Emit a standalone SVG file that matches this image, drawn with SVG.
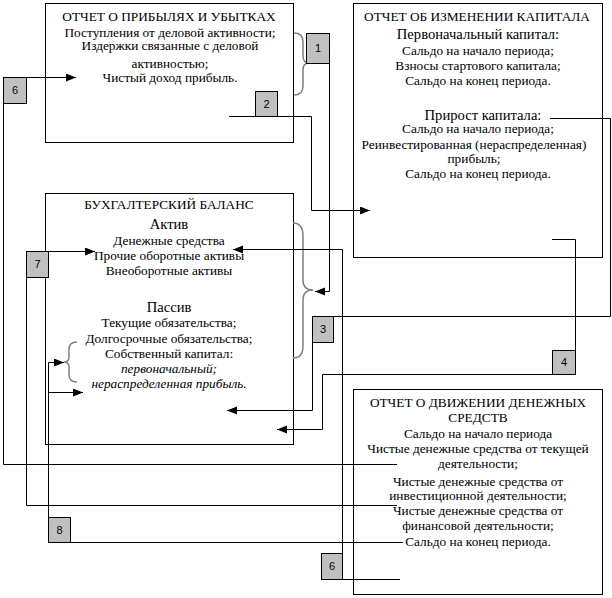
<svg xmlns="http://www.w3.org/2000/svg" width="612" height="598" viewBox="0 0 612 598">
<defs>
<marker id="ah" markerUnits="userSpaceOnUse" markerWidth="12" markerHeight="10" refX="10" refY="4" orient="auto">
<path d="M0,0 L10,4 L0,8 Z" fill="#000"/>
</marker>
<style>
.box{fill:#fff;stroke:#000;stroke-width:1}
.t{font-family:'Liberation Serif',serif;font-size:13.3px;fill:#000;text-anchor:middle}
.big{font-size:14.6px}
.it{font-style:italic}
.num{fill:#c0c0c0;stroke:#000;stroke-width:1}
.nt{font-family:'Liberation Sans',sans-serif;font-size:11px;fill:#000;text-anchor:middle}
.c{fill:none;stroke:#000;stroke-width:1}
.br{fill:none;stroke:#808080;stroke-width:1.5}
</style>
</defs>
<rect width="612" height="598" fill="#fff"/>

<g id="income">
<rect class="box" x="45.5" y="3.5" width="248" height="139"/>
<text class="t" x="169" y="20.5">ОТЧЕТ  О ПРИБЫЛЯХ  И УБЫТКАХ</text>
<text class="t" x="170" y="36.5">Поступления от деловой активности;</text>
<text class="t" x="170" y="50">Издержки связанные с деловой</text>
<text class="t" x="170" y="67.5">активностью;</text>
<text class="t" x="170" y="81.5">Чистый доход прибыль.</text>
</g>

<g id="equity">
<rect class="box" x="353.5" y="3.5" width="249" height="254"/>
<text class="t" x="477" y="20.5">ОТЧЕТ  ОБ ИЗМЕНЕНИИ  КАПИТАЛА</text>
<text class="t big" x="478" y="39">Первоначальный капитал:</text>
<text class="t" x="478" y="55">Сальдо на начало периода;</text>
<text class="t" x="478" y="70">Взносы стартового капитала;</text>
<text class="t" x="478" y="85">Сальдо на конец периода.</text>
<text class="t big" x="483" y="119.5">Прирост капитала:</text>
<text class="t" x="478" y="133">Сальдо на начало периода;</text>
<text class="t" x="474" y="149">Реинвестированная (нераспределенная)</text>
<text class="t" x="474" y="163">прибыль;</text>
<text class="t" x="478" y="178">Сальдо на конец периода.</text>
</g>

<g id="balance">
<rect class="box" x="45.5" y="193.5" width="248" height="251"/>
<text class="t" x="169" y="209">БУХГАЛТЕРСКИЙ  БАЛАНС</text>
<text class="t big" x="169" y="229">Актив</text>
<text class="t" x="169" y="245">Денежные средства</text>
<text class="t" x="169" y="260">Прочие оборотные активы</text>
<text class="t" x="169" y="275">Внеоборотные активы</text>
<text class="t big" x="169" y="312">Пассив</text>
<text class="t" x="169" y="327">Текущие обязательства;</text>
<text class="t" x="169" y="343">Долгосрочные обязательства;</text>
<text class="t" x="169" y="358">Собственный капитал:</text>
<text class="t it" x="169" y="373">первоначальный;</text>
<text class="t it" x="169" y="388">нераспределенная прибыль.</text>
</g>

<g id="cashflow">
<rect class="box" x="353.5" y="389.5" width="249" height="205"/>
<text class="t" x="478" y="407">ОТЧЕТ  О ДВИЖЕНИИ  ДЕНЕЖНЫХ</text>
<text class="t" x="478" y="422">СРЕДСТВ</text>
<text class="t" x="478" y="438">Сальдо на начало периода</text>
<text class="t" x="478" y="453">Чистые денежные средства  от текущей</text>
<text class="t" x="478" y="468">деятельности;</text>
<text class="t" x="478" y="486">Чистые денежные средства от</text>
<text class="t" x="478" y="500">инвестиционной деятельности;</text>
<text class="t" x="478" y="515">Чистые денежные средства от</text>
<text class="t" x="478" y="530">финансовой деятельности;</text>
<text class="t" x="478" y="546">Сальдо на конец периода.</text>
</g>

<g id="connectors">
<path class="br" d="M294,33 Q303,33 303,42 V56 Q303,63 309,63 Q303,63 303,70 V86 Q303,95 294,95"/>
<path class="br" d="M293,223 Q303,223 303,236 V280 Q303,290 313,290 Q303,290 303,300 V346 Q303,358 293,358"/>
<path class="br" d="M77,342 Q69,342 69,349 V357 Q69,362 64,362 Q69,362 69,367 V375 Q69,382 77,382"/>

<path class="c" d="M329.5,63 V291.5 H315" marker-end="url(#ah)"/>
<path class="c" d="M229,116.5 H311.5 V210.5 H370" marker-end="url(#ah)"/>
<path class="c" d="M550,118.5 H610.5 V316.5 H333"/>
<path class="c" d="M312.5,342 V410.5 H227" marker-end="url(#ah)"/>
<path class="c" d="M552,239.5 H575.5 V350"/>
<path class="c" d="M552,374.5 H322.5 V429.5 H277" marker-end="url(#ah)"/>
<path class="c" d="M400,579.5 H342"/>
<path class="c" d="M342.5,553 V249.5 H233" marker-end="url(#ah)"/>
<path class="c" d="M26,77.5 H76" marker-end="url(#ah)"/>
<path class="c" d="M3.5,103 V464.5 H397"/>
<path class="c" d="M48,251.5 H95" marker-end="url(#ah)"/>
<path class="c" d="M26.5,277 V505.5 H397"/>
<path class="c" d="M48.5,517 V362.5 H64" marker-end="url(#ah)"/>
<path class="c" d="M48.5,392.5 H83" marker-end="url(#ah)"/>
<path class="c" d="M48.5,542.5 H403"/>
</g>

<g id="n1"><rect class="num" x="306.5" y="33.5" width="23" height="30"/><text class="nt" x="318" y="52">1</text></g>
<g id="n2"><rect class="num" x="255.5" y="91.5" width="22" height="25"/><text class="nt" x="266.5" y="108">2</text></g>
<g id="n6a"><rect class="num" x="3.5" y="77.5" width="23" height="26"/><text class="nt" x="15" y="94">6</text></g>
<g id="n7"><rect class="num" x="26.5" y="251.5" width="22" height="26"/><text class="nt" x="37.5" y="268">7</text></g>
<g id="n3"><rect class="num" x="312.5" y="316.5" width="21" height="26"/><text class="nt" x="323" y="333">3</text></g>
<g id="n4"><rect class="num" x="552.5" y="350.5" width="23" height="24"/><text class="nt" x="564" y="366">4</text></g>
<g id="n8"><rect class="num" x="48.5" y="517.5" width="22" height="25"/><text class="nt" x="59.5" y="534">8</text></g>
<g id="n6b"><rect class="num" x="321.5" y="553.5" width="21" height="26"/><text class="nt" x="332" y="570">6</text></g>
</svg>
